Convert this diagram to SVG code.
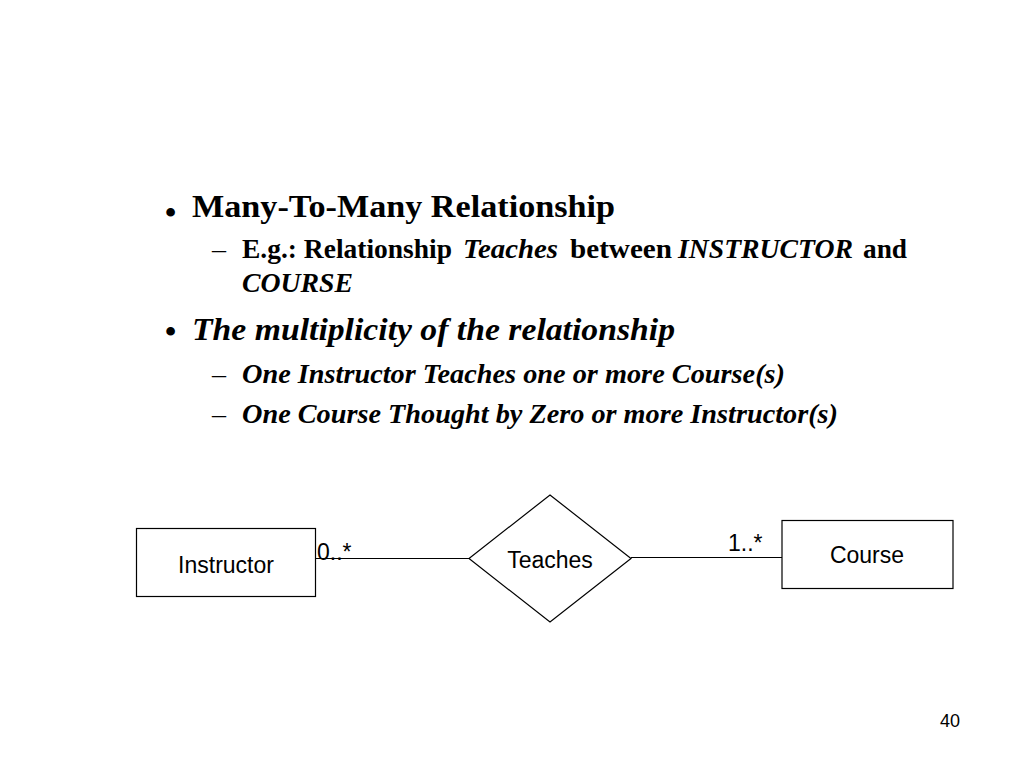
<svg xmlns="http://www.w3.org/2000/svg" width="1024" height="768" viewBox="0 0 1024 768">
  <style>
    .serif { font-family: "Liberation Serif", "Times New Roman", serif; font-weight: bold; fill: #000; }
    .it { font-style: italic; }
    .h1 { font-size: 32px; }
    .h2 { font-size: 27px; }
    .bul { font-size: 32px; }
    .dash { font-weight: normal; font-size: 26px; }
    .sans { font-family: "Liberation Sans", Arial, sans-serif; font-size: 23px; fill: #000; }
    .shape { fill: #fff; stroke: #000; stroke-width: 1.2; }
    .conn { stroke: #000; stroke-width: 1.2; fill: none; }
  </style>
  <rect x="0" y="0" width="1024" height="768" fill="#fff"/>

  <g id="bullets">
    <text class="serif bul" x="165" y="223">•</text>
    <text class="serif h1" x="192" y="217" textLength="423" lengthAdjust="spacingAndGlyphs">Many-To-Many Relationship</text>

    <text class="serif dash" x="212" y="258" textLength="14" lengthAdjust="spacingAndGlyphs">–</text>
    <text class="serif h2" x="242" y="258" textLength="210" lengthAdjust="spacingAndGlyphs">E.g.: Relationship</text>
    <text class="serif h2 it" x="463" y="258" textLength="95" lengthAdjust="spacingAndGlyphs">Teaches</text>
    <text class="serif h2" x="570" y="258" textLength="102" lengthAdjust="spacingAndGlyphs">between</text>
    <text class="serif h2 it" x="678" y="258" textLength="175" lengthAdjust="spacingAndGlyphs">INSTRUCTOR</text>
    <text class="serif h2" x="863" y="258" textLength="44" lengthAdjust="spacingAndGlyphs">and</text>
    <text class="serif h2 it" x="242" y="292" textLength="111" lengthAdjust="spacingAndGlyphs">COURSE</text>

    <text class="serif bul" x="165" y="342">•</text>
    <text class="serif h1 it" x="192" y="340" textLength="483" lengthAdjust="spacingAndGlyphs">The multiplicity of the relationship</text>

    <text class="serif dash" x="212" y="383" textLength="14" lengthAdjust="spacingAndGlyphs">–</text>
    <text class="serif h2 it" x="242" y="383" textLength="543" lengthAdjust="spacingAndGlyphs">One Instructor Teaches one or more Course(s)</text>

    <text class="serif dash" x="212" y="423" textLength="14" lengthAdjust="spacingAndGlyphs">–</text>
    <text class="serif h2 it" x="242" y="423" textLength="596" lengthAdjust="spacingAndGlyphs">One Course Thought by Zero or more Instructor(s)</text>
  </g>

  <g id="connectors">
    <line class="conn" x1="316" y1="558.5" x2="469" y2="558.5"/>
    <line class="conn" x1="631" y1="557.5" x2="782" y2="557.5"/>
    <text class="sans" x="317" y="560">0..*</text>
    <text class="sans" x="728" y="551">1..*</text>
  </g>

  <g id="instructor">
    <rect class="shape" x="136.5" y="528.5" width="179" height="68"/>
    <text class="sans" x="226" y="573" text-anchor="middle">Instructor</text>
  </g>

  <g id="teaches">
    <polygon class="shape" points="550,495 631,558.5 550,622 469,558.5"/>
    <text class="sans" x="550" y="568" text-anchor="middle">Teaches</text>
  </g>

  <g id="course">
    <rect class="shape" x="782" y="520.5" width="171" height="68"/>
    <text class="sans" x="867" y="563" text-anchor="middle">Course</text>
  </g>

  <text class="sans" x="950" y="727" text-anchor="middle" style="font-size:18px">40</text>
</svg>
